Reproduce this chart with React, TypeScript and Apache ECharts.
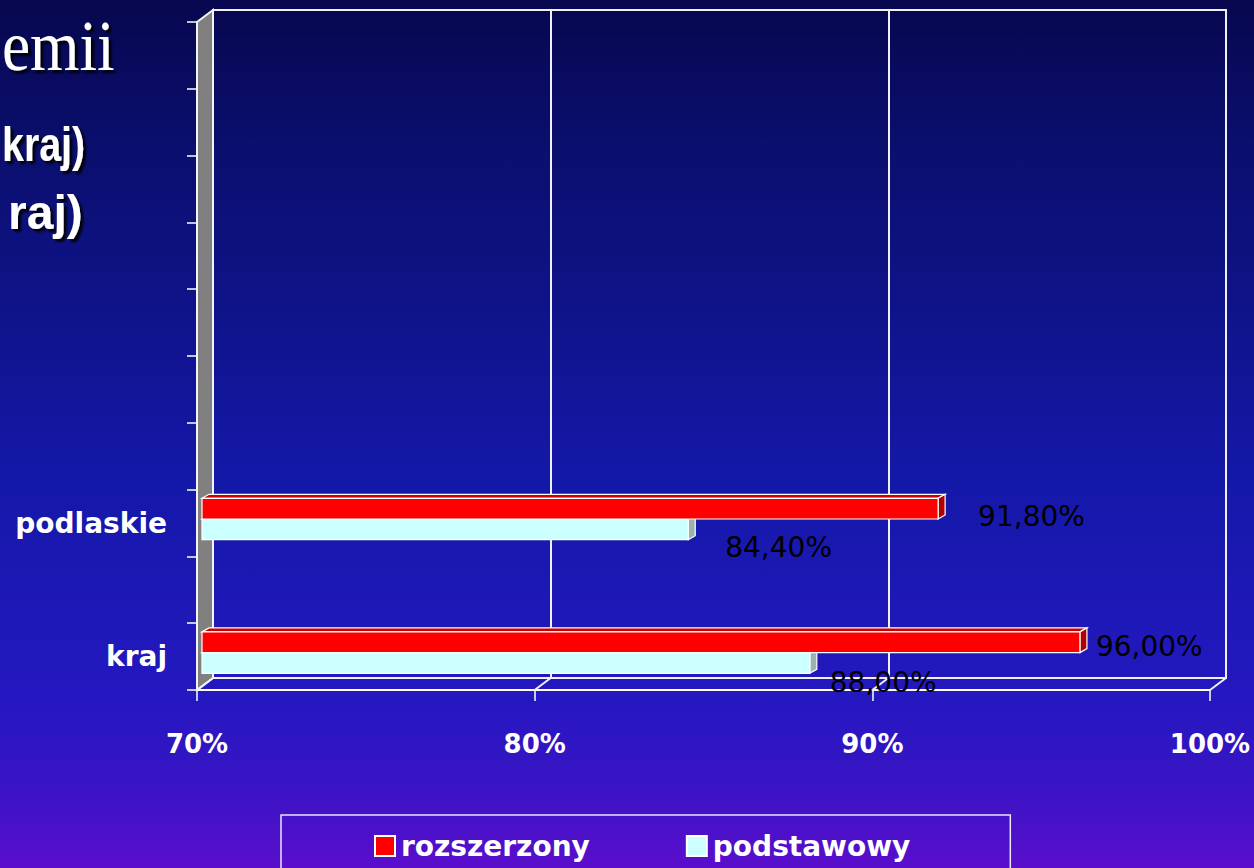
import React, { useEffect, useRef } from 'react';
import * as echarts from 'echarts';

// Category slots from bottom to top; only two hold data.
const categories: string[] = ['kraj', '', 'podlaskie', '', '', '', '', '', '', ''];
const seriesNames: string[] = ['rozszerzony', 'podstawowy'];
const rozszerzonyValues: (number | null)[] = [96.0, null, 91.8, null, null, null, null, null, null, null];
const podstawowyValues: (number | null)[] = [88.0, null, 84.4, null, null, null, null, null, null, null];
const axisMin = 70;
const axisMax = 100;
const axisInterval = 10;
const titleLines: string[] = ['emii', 'kraj)', 'raj)'];

// Layout of the pseudo-3D box: front plane and back wall.
const FRONT = { left: 197, top: 22, width: 1013, height: 668 };
const DEPTH = { dx: 16, dy: -12 };
const BACK = { left: FRONT.left + DEPTH.dx, top: FRONT.top + DEPTH.dy, width: FRONT.width, height: FRONT.height };
const BAR_PLANE = { dx: 5, dy: -4 };
const BAR_DEPTH = { dx: 7, dy: -4 };
const BAR_RATIO = 0.31;

// Free placement of each value label relative to its bar's tip.
const rozszerzonyLabelShift = [
  { dx: 16, dy: 4 },
  { dx: 40, dy: 8 },
];
const podstawowyLabelShift = [
  { dx: 20, dy: 20 },
  { dx: 37, dy: 18 },
];

const FONT = '"DejaVu Sans", "Noto Sans", sans-serif';

const toData = (values: (number | null)[]) =>
  values
    .map((v, i) => (v == null ? null : [v, i]))
    .filter((d): d is number[] => d !== null);

const fmt = (v: number) => v.toFixed(2).replace('.', ',') + '%';

type Face = { front: string; top: string; side: string };

function barRenderer(part: 0 | 1, face: Face, shifts: { dx: number; dy: number }[]) {
  return (params: any, api: any) => {
    const v = api.value(0) as number;
    const idx = api.value(1) as number;
    const base = api.coord([axisMin, idx]);
    const tip = api.coord([v, idx]);
    const band = (api.size([0, 1]) as number[])[1];
    const h = band * BAR_RATIO;
    const x0 = base[0] + BAR_PLANE.dx;
    const x1 = tip[0] + BAR_PLANE.dx;
    const cy = tip[1] + BAR_PLANE.dy;
    const y0 = part === 0 ? cy - h : cy;
    const y1 = y0 + h;
    const { dx, dy } = BAR_DEPTH;
    const shift = shifts[params.dataIndex] || { dx: 20, dy: 0 };
    const edge = { stroke: '#ffffff', lineWidth: 1.2 };
    return {
      type: 'group',
      children: [
        {
          type: 'polygon',
          shape: { points: [[x0, y0], [x0 + dx, y0 + dy], [x1 + dx, y0 + dy], [x1, y0]] },
          style: { fill: face.top, ...edge },
        },
        {
          type: 'polygon',
          shape: { points: [[x1, y0], [x1 + dx, y0 + dy], [x1 + dx, y1 + dy], [x1, y1]] },
          style: { fill: face.side, ...edge },
        },
        {
          type: 'rect',
          shape: { x: x0, y: y0, width: x1 - x0, height: h },
          style: { fill: face.front, ...edge },
        },
        {
          type: 'text',
          x: x1 + shift.dx,
          y: (y0 + y1) / 2 + shift.dy,
          style: {
            text: fmt(v),
            fill: '#000000',
            fontSize: 28,
            fontFamily: FONT,
            fontWeight: 'normal',
            align: 'left',
            verticalAlign: 'middle',
          },
        },
      ],
    };
  };
}

const redFace: Face = { front: '#ff0000', top: '#c80000', side: '#b00000' };
const cyanFace: Face = { front: '#ccffff', top: '#e6ffff', side: '#98b4b0' };

const titleShadow = {
  textShadowColor: 'rgba(0,0,0,0.9)',
  textShadowOffsetX: 3,
  textShadowOffsetY: 3,
  textShadowBlur: 2,
};

export default function App() {
  const ref = useRef<HTMLDivElement>(null);

  useEffect(() => {
    if (!ref.current) return;
    const chart = echarts.init(ref.current, undefined, { renderer: 'svg' });

    const option: any = {
      animation: false,
      backgroundColor: new echarts.graphic.LinearGradient(0, 0, 0, 1, [
        { offset: 0, color: '#07074f' },
        { offset: 0.15, color: '#0a0e6a' },
        { offset: 0.55, color: '#1418a8' },
        { offset: 0.8, color: '#2418c0' },
        { offset: 0.9, color: '#3814c4' },
        { offset: 1, color: '#5a0ecc' },
      ]),
      grid: [
        { left: FRONT.left, top: FRONT.top, width: FRONT.width, height: FRONT.height },
        {
          left: BACK.left,
          top: BACK.top,
          width: BACK.width,
          height: BACK.height,
          show: true,
          borderColor: '#f0f0f8',
          borderWidth: 2,
          backgroundColor: 'transparent',
          z: 0,
        },
      ],
      xAxis: [
        {
          type: 'value',
          gridIndex: 0,
          min: axisMin,
          max: axisMax,
          interval: axisInterval,
          axisLine: { show: true, lineStyle: { color: '#ffffff', width: 2 } },
          axisTick: { show: true, length: 11, lineStyle: { color: '#ffffff', width: 1.5 } },
          splitLine: { show: false },
          axisLabel: {
            formatter: '{value}%',
            color: '#ffffff',
            fontSize: 26,
            fontWeight: 'bold',
            fontFamily: FONT,
            margin: 41,
            textShadowColor: 'rgba(0,0,0,0.6)',
            textShadowOffsetX: 2,
            textShadowOffsetY: 2,
          },
        },
        {
          type: 'value',
          gridIndex: 1,
          min: axisMin,
          max: axisMax,
          interval: axisInterval,
          axisLine: { show: false },
          axisTick: { show: false },
          axisLabel: { show: false },
          splitLine: { show: true, lineStyle: { color: '#f0f0f8', width: 2 } },
        },
      ],
      yAxis: [
        {
          type: 'category',
          gridIndex: 0,
          data: categories,
          axisLine: { show: true, lineStyle: { color: '#ffffff', width: 2 } },
          axisTick: { show: true, length: 10, lineStyle: { color: '#ffffff', width: 1.5 } },
          axisLabel: {
            color: '#ffffff',
            fontSize: 28,
            fontWeight: 'bold',
            fontFamily: FONT,
            margin: 30,
            textShadowColor: 'rgba(0,0,0,0.6)',
            textShadowOffsetX: 2,
            textShadowOffsetY: 2,
          },
          splitLine: { show: false },
        },
        {
          type: 'category',
          gridIndex: 1,
          data: categories,
          show: false,
        },
      ],
      legend: {
        left: 281,
        top: 815,
        padding: [17, 100, 40, 93],
        itemGap: 96,
        itemWidth: 20,
        itemHeight: 20,
        borderColor: '#e8e8f4',
        borderWidth: 1.5,
        selectedMode: false,
        icon: 'rect',
        textStyle: {
          color: '#ffffff',
          fontSize: 28,
          fontWeight: 'bold',
          fontFamily: FONT,
          padding: [0, 0, 0, 1],
        },
        data: [
          { name: seriesNames[0], itemStyle: { color: redFace.front, borderColor: '#ffffff', borderWidth: 2 } },
          { name: seriesNames[1], itemStyle: { color: cyanFace.front, borderColor: '#ffffff', borderWidth: 2 } },
        ],
      },
      series: [
        {
          name: seriesNames[1],
          type: 'custom',
          xAxisIndex: 0,
          yAxisIndex: 0,
          z: 3,
          itemStyle: { color: cyanFace.front },
          encode: { x: 0, y: 1 },
          data: toData(podstawowyValues),
          renderItem: barRenderer(1, cyanFace, podstawowyLabelShift),
        },
        {
          name: seriesNames[0],
          type: 'custom',
          xAxisIndex: 0,
          yAxisIndex: 0,
          z: 4,
          itemStyle: { color: redFace.front },
          encode: { x: 0, y: 1 },
          data: toData(rozszerzonyValues),
          renderItem: barRenderer(0, redFace, rozszerzonyLabelShift),
        },
      ],
    };

    chart.setOption(option);

    // Box decoration: left wall, floor edges and heading fragments.
    const frontBottom = FRONT.top + FRONT.height;
    const backBottom = BACK.top + BACK.height;
    const floorLines: any[] = [];
    for (let t = axisMin; t <= axisMax; t += axisInterval) {
      const xf = chart.convertToPixel({ xAxisIndex: 0 }, t) as number;
      const xb = chart.convertToPixel({ xAxisIndex: 1 }, t) as number;
      floorLines.push({
        type: 'line',
        z: 1,
        shape: { x1: xf, y1: frontBottom, x2: xb, y2: backBottom },
        style: { stroke: '#f0f0f8', lineWidth: 2 },
        silent: true,
      });
    }

    chart.setOption({
      graphic: [
        {
          type: 'polygon',
          z: 1,
          silent: true,
          shape: {
            points: [
              [FRONT.left, FRONT.top],
              [BACK.left, BACK.top],
              [BACK.left, backBottom],
              [FRONT.left, frontBottom],
            ],
          },
          style: { fill: '#808080', stroke: '#f4f4f8', lineWidth: 2 },
        },
        ...floorLines,
        {
          type: 'text',
          x: 2,
          y: 46,
          z: 5,
          scaleX: 0.88,
          style: {
            text: titleLines[0],
            fill: '#ffffff',
            fontSize: 72,
            fontFamily: '"Liberation Serif", "DejaVu Serif", serif',
            align: 'left',
            verticalAlign: 'middle',
            ...titleShadow,
          },
        },
        {
          type: 'text',
          x: 2,
          y: 144,
          z: 5,
          scaleX: 0.82,
          style: {
            text: titleLines[1],
            fill: '#ffffff',
            fontSize: 48,
            fontWeight: 'bold',
            fontFamily: '"Liberation Sans", Arial, sans-serif',
            align: 'left',
            verticalAlign: 'middle',
            ...titleShadow,
          },
        },
        {
          type: 'text',
          x: 8,
          y: 212,
          z: 5,
          style: {
            text: titleLines[2],
            fill: '#ffffff',
            fontSize: 48,
            fontWeight: 'bold',
            fontFamily: '"Liberation Sans", Arial, sans-serif',
            align: 'left',
            verticalAlign: 'middle',
            ...titleShadow,
          },
        },
      ],
    });

    return () => chart.dispose();
  }, []);

  return (
    <div
      ref={ref}
      style={{ position: 'absolute', left: 0, top: 0, width: 1254, height: 868, overflow: 'hidden' }}
    />
  );
}
